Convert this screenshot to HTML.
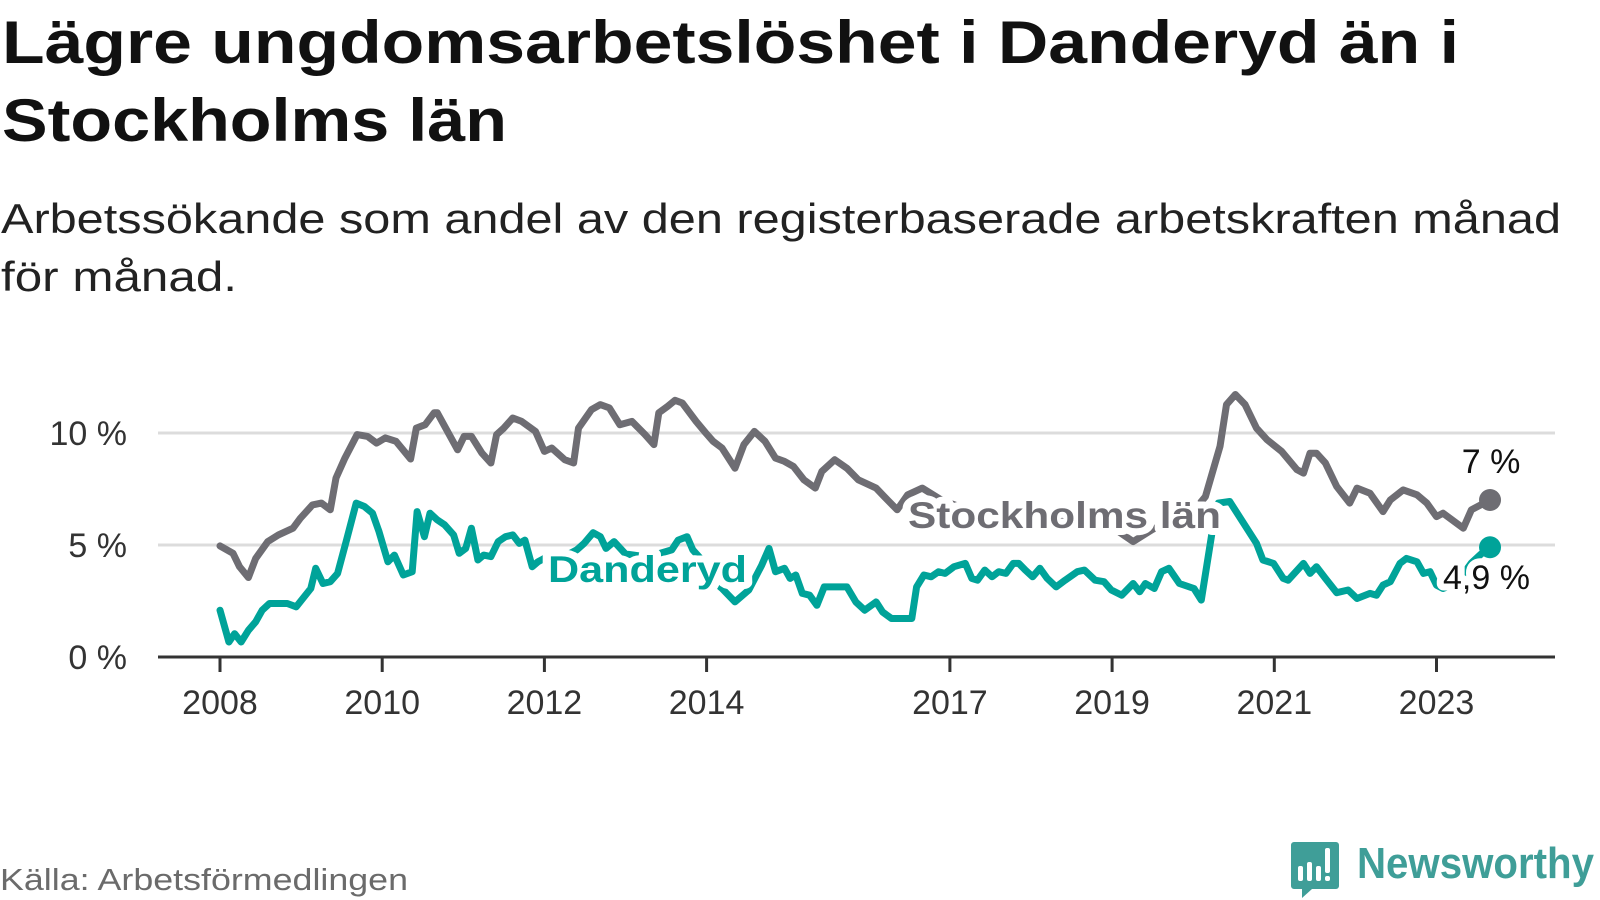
<!DOCTYPE html>
<html><head><meta charset="utf-8">
<style>
html,body{margin:0;padding:0;background:#fff;}
svg{display:block;font-family:"Liberation Sans",sans-serif;}
.halo{paint-order:stroke;stroke:#fff;stroke-width:14px;stroke-linejoin:round;}
</style></head>
<body>
<svg id="chart" width="1600" height="900" viewBox="0 0 1600 900" xmlns="http://www.w3.org/2000/svg">
  <text x="2" y="63" font-size="60" font-weight="bold" fill="#111" textLength="1457" lengthAdjust="spacingAndGlyphs">Lägre ungdomsarbetslöshet i Danderyd än i</text>
  <text x="2" y="141" font-size="60" font-weight="bold" fill="#111" textLength="505" lengthAdjust="spacingAndGlyphs">Stockholms län</text>
  <text x="1" y="233" font-size="42" fill="#222" textLength="1560" lengthAdjust="spacingAndGlyphs">Arbetssökande som andel av den registerbaserade arbetskraften månad</text>
  <text x="1" y="291" font-size="42" fill="#222" textLength="236" lengthAdjust="spacingAndGlyphs">för månad.</text>
  <g id="grid"></g>
  <g id="yaxis"></g>
  <g id="xaxis"></g>
  <g id="series"></g>
  <g id="labels"></g>
  <text x="0" y="890" font-size="31" fill="#6b6b6b" textLength="408" lengthAdjust="spacingAndGlyphs">Källa: Arbetsförmedlingen</text>
  <g>
    <path d="M1294 842 h42 a3 3 0 0 1 3 3 v41 a3 3 0 0 1 -3 3 h-24 l-10 9 v-9 h-8 a3 3 0 0 1 -3 -3 v-41 a3 3 0 0 1 3 -3z" fill="#3f9e98"/>
    <rect x="1298" y="866" width="5" height="15" rx="2" fill="#fff"/>
    <rect x="1307" y="862" width="5" height="19" rx="2" fill="#fff"/>
    <rect x="1316" y="866" width="5" height="15" rx="2" fill="#fff"/>
    <rect x="1325" y="848" width="5" height="25" rx="2" fill="#fff"/>
    <rect x="1325" y="876" width="5" height="5" rx="2" fill="#fff"/>
    <text x="1357" y="878" font-size="44" font-weight="bold" fill="#3f9e98" textLength="237" lengthAdjust="spacingAndGlyphs">Newsworthy</text>
  </g>
</svg>
<script>
const grayYears=[2008.00,2008.16,2008.24,2008.35,2008.44,2008.59,2008.72,2008.90,2008.99,2009.14,2009.25,2009.36,2009.43,2009.54,2009.69,2009.82,2009.93,2010.04,2010.17,2010.35,2010.42,2010.53,2010.64,2010.68,2010.93,2011.01,2011.10,2011.23,2011.34,2011.41,2011.50,2011.61,2011.72,2011.89,2012.00,2012.09,2012.25,2012.36,2012.42,2012.58,2012.69,2012.80,2012.93,2013.08,2013.24,2013.35,2013.41,2013.52,2013.61,2013.70,2013.87,2013.99,2014.08,2014.19,2014.35,2014.46,2014.59,2014.72,2014.85,2014.96,2015.07,2015.20,2015.34,2015.42,2015.58,2015.73,2015.87,2016.09,2016.19,2016.35,2016.48,2016.66,2016.90,2017.20,2017.50,2017.80,2018.10,2018.40,2018.70,2019.00,2019.26,2019.50,2019.80,2020.00,2020.15,2020.33,2020.41,2020.52,2020.64,2020.78,2020.91,2021.09,2021.28,2021.36,2021.44,2021.52,2021.63,2021.77,2021.93,2022.02,2022.18,2022.34,2022.43,2022.59,2022.76,2022.88,2023.00,2023.08,2023.33,2023.43,2023.66];
const grayValues=[4.96,4.63,4.03,3.55,4.4,5.15,5.45,5.75,6.19,6.79,6.87,6.57,7.99,8.88,9.93,9.85,9.55,9.78,9.63,8.84,10.22,10.37,10.9,10.9,9.25,9.85,9.85,9.1,8.66,9.93,10.22,10.67,10.52,10.07,9.18,9.33,8.81,8.66,10.22,11.04,11.27,11.12,10.37,10.52,9.93,9.48,10.9,11.19,11.46,11.34,10.52,10.0,9.63,9.33,8.43,9.48,10.07,9.63,8.88,8.73,8.51,7.91,7.54,8.28,8.81,8.43,7.91,7.54,7.16,6.57,7.24,7.54,7.0,6.6,6.4,6.3,6.3,6.2,6.1,5.8,5.15,5.7,6.2,6.5,7.16,9.4,11.27,11.72,11.27,10.22,9.7,9.18,8.36,8.21,9.1,9.1,8.66,7.61,6.87,7.54,7.31,6.49,7.01,7.46,7.24,6.87,6.27,6.42,5.75,6.57,7.01];
const tealYears=[2008.00,2008.11,2008.18,2008.26,2008.35,2008.44,2008.52,2008.61,2008.83,2008.94,2009.12,2009.18,2009.27,2009.36,2009.45,2009.56,2009.68,2009.78,2009.88,2009.96,2010.07,2010.15,2010.26,2010.37,2010.43,2010.52,2010.59,2010.68,2010.77,2010.88,2010.95,2011.03,2011.10,2011.18,2011.25,2011.34,2011.43,2011.52,2011.61,2011.69,2011.76,2011.85,2011.92,2012.10,2012.25,2012.40,2012.49,2012.60,2012.69,2012.76,2012.86,2013.00,2013.20,2013.40,2013.57,2013.65,2013.76,2013.83,2013.95,2014.08,2014.19,2014.35,2014.52,2014.68,2014.77,2014.85,2014.96,2015.03,2015.10,2015.18,2015.27,2015.36,2015.45,2015.73,2015.84,2015.95,2016.09,2016.17,2016.28,2016.53,2016.59,2016.68,2016.77,2016.86,2016.94,2017.05,2017.19,2017.27,2017.34,2017.43,2017.52,2017.60,2017.69,2017.78,2017.85,2017.93,2018.02,2018.11,2018.20,2018.31,2018.42,2018.57,2018.66,2018.79,2018.90,2018.99,2019.12,2019.26,2019.34,2019.41,2019.52,2019.61,2019.70,2019.83,2020.01,2020.10,2020.25,2020.31,2020.45,2020.78,2020.86,2020.99,2021.11,2021.17,2021.36,2021.44,2021.52,2021.63,2021.77,2021.91,2022.02,2022.18,2022.26,2022.34,2022.43,2022.55,2022.63,2022.76,2022.84,2022.92,2023.00,2023.08,2023.25,2023.43,2023.55,2023.66];
const tealValues=[2.09,0.67,1.04,0.67,1.19,1.57,2.09,2.39,2.39,2.24,3.06,3.96,3.28,3.36,3.73,5.22,6.87,6.72,6.42,5.6,4.25,4.55,3.66,3.81,6.49,5.37,6.42,6.12,5.9,5.45,4.63,4.85,5.75,4.33,4.55,4.48,5.15,5.37,5.45,5.07,5.22,4.03,4.25,4.6,4.5,4.78,5.07,5.55,5.37,4.85,5.15,4.6,4.5,4.6,4.78,5.22,5.37,4.78,4.3,3.4,3.06,2.46,2.99,4.1,4.85,3.81,3.96,3.51,3.66,2.84,2.76,2.31,3.13,3.13,2.46,2.09,2.46,2.01,1.72,1.72,3.13,3.66,3.58,3.81,3.73,4.03,4.18,3.51,3.43,3.88,3.58,3.81,3.73,4.18,4.18,3.88,3.58,3.96,3.51,3.13,3.43,3.81,3.88,3.43,3.36,2.99,2.76,3.28,2.91,3.28,3.06,3.81,3.96,3.28,3.06,2.54,5.97,6.87,6.94,5.07,4.33,4.18,3.51,3.43,4.18,3.73,4.03,3.51,2.87,2.99,2.61,2.84,2.76,3.21,3.36,4.18,4.4,4.25,3.73,3.81,3.21,3.06,3.3,4.2,4.6,4.9];
const yTicks=[0,5,10];
const yTickLabels=["0 %","5 %","10 %"];
const xTicks=[2008,2010,2012,2014,2017,2019,2021,2023];
const endLabels=["7 %","4,9 %"];

const NS="http://www.w3.org/2000/svg";
const X0=220, PXY=81.1, Y0=657, PXV=22.4, XL=158, XR=1555;
function xs(y){return X0+(y-2008)*PXY;}
function ys(v){return Y0-v*PXV;}
function mk(tag,attrs,parent){const e=document.createElementNS(NS,tag);for(const k in attrs)e.setAttribute(k,attrs[k]);parent.appendChild(e);return e;}

const grid=document.getElementById('grid'), yaxis=document.getElementById('yaxis'), xaxis=document.getElementById('xaxis');
yTicks.forEach((v,i)=>{
  if(v>0){const l=mk('line',{x1:XL,x2:XR,y1:ys(v),y2:ys(v),stroke:'#dcdcdc','stroke-width':3},grid);
    
    }
  const t=mk('text',{x:127,y:ys(v)+12,'font-size':34,fill:'#333','text-anchor':'end'},yaxis);
  t.textContent=yTickLabels[i];
  
  
});
const ax=mk('line',{x1:XL,x2:XR,y1:Y0,y2:Y0,stroke:'#333','stroke-width':3},xaxis);


xTicks.forEach(yr=>{
  const tk=mk('line',{x1:xs(yr),x2:xs(yr),y1:Y0,y2:Y0+15,stroke:'#333','stroke-width':3},xaxis);
  
  
  const t=mk('text',{x:xs(yr),y:714,'font-size':34,fill:'#333','text-anchor':'middle'},xaxis);
  t.textContent=String(yr);
  
  
});

const series=document.getElementById('series');
function drawLine(years,vals,color,name){
  const d=years.map((y,i)=>(i?'L':'M')+xs(y).toFixed(1)+' '+ys(vals[i]).toFixed(1)).join(' ');
  const p=mk('path',{d:d,fill:'none',stroke:color,'stroke-width':7,'stroke-linejoin':'round','stroke-linecap':'round'},series);
  
  
}
drawLine(grayYears,grayValues,'#6e6d73','stockholm-line');
drawLine(tealYears,tealValues,'#00a399','danderyd-line');

const labels=document.getElementById('labels');
const gl=grayYears.length-1, tl=tealYears.length-1;
const sl=mk('text',{x:908,y:528,'font-size':37,'font-weight':'bold',fill:'#6e6d73',class:'halo',textLength:313,lengthAdjust:'spacingAndGlyphs'},labels);
sl.textContent='Stockholms län';


const dl=mk('text',{x:548,y:582,'font-size':37,'font-weight':'bold',fill:'#00a399',class:'halo',textLength:199,lengthAdjust:'spacingAndGlyphs'},labels);
dl.textContent='Danderyd';


const e1=mk('text',{x:xs(grayYears[gl])+1,y:ys(grayValues[gl])-27,'font-size':34,fill:'#111','text-anchor':'middle',class:'halo'},labels);
e1.textContent=endLabels[0];


const e2=mk('text',{x:xs(tealYears[tl])-47,y:ys(tealValues[tl])+42,'font-size':34,fill:'#111',class:'halo'},labels);
e2.textContent=endLabels[1];


const d1=mk('circle',{cx:xs(grayYears[gl]),cy:ys(grayValues[gl]),r:11,fill:'#6e6d73'},labels);


const d2=mk('circle',{cx:xs(tealYears[tl]),cy:ys(tealValues[tl]),r:11,fill:'#00a399'},labels);


</script>
</body></html>
